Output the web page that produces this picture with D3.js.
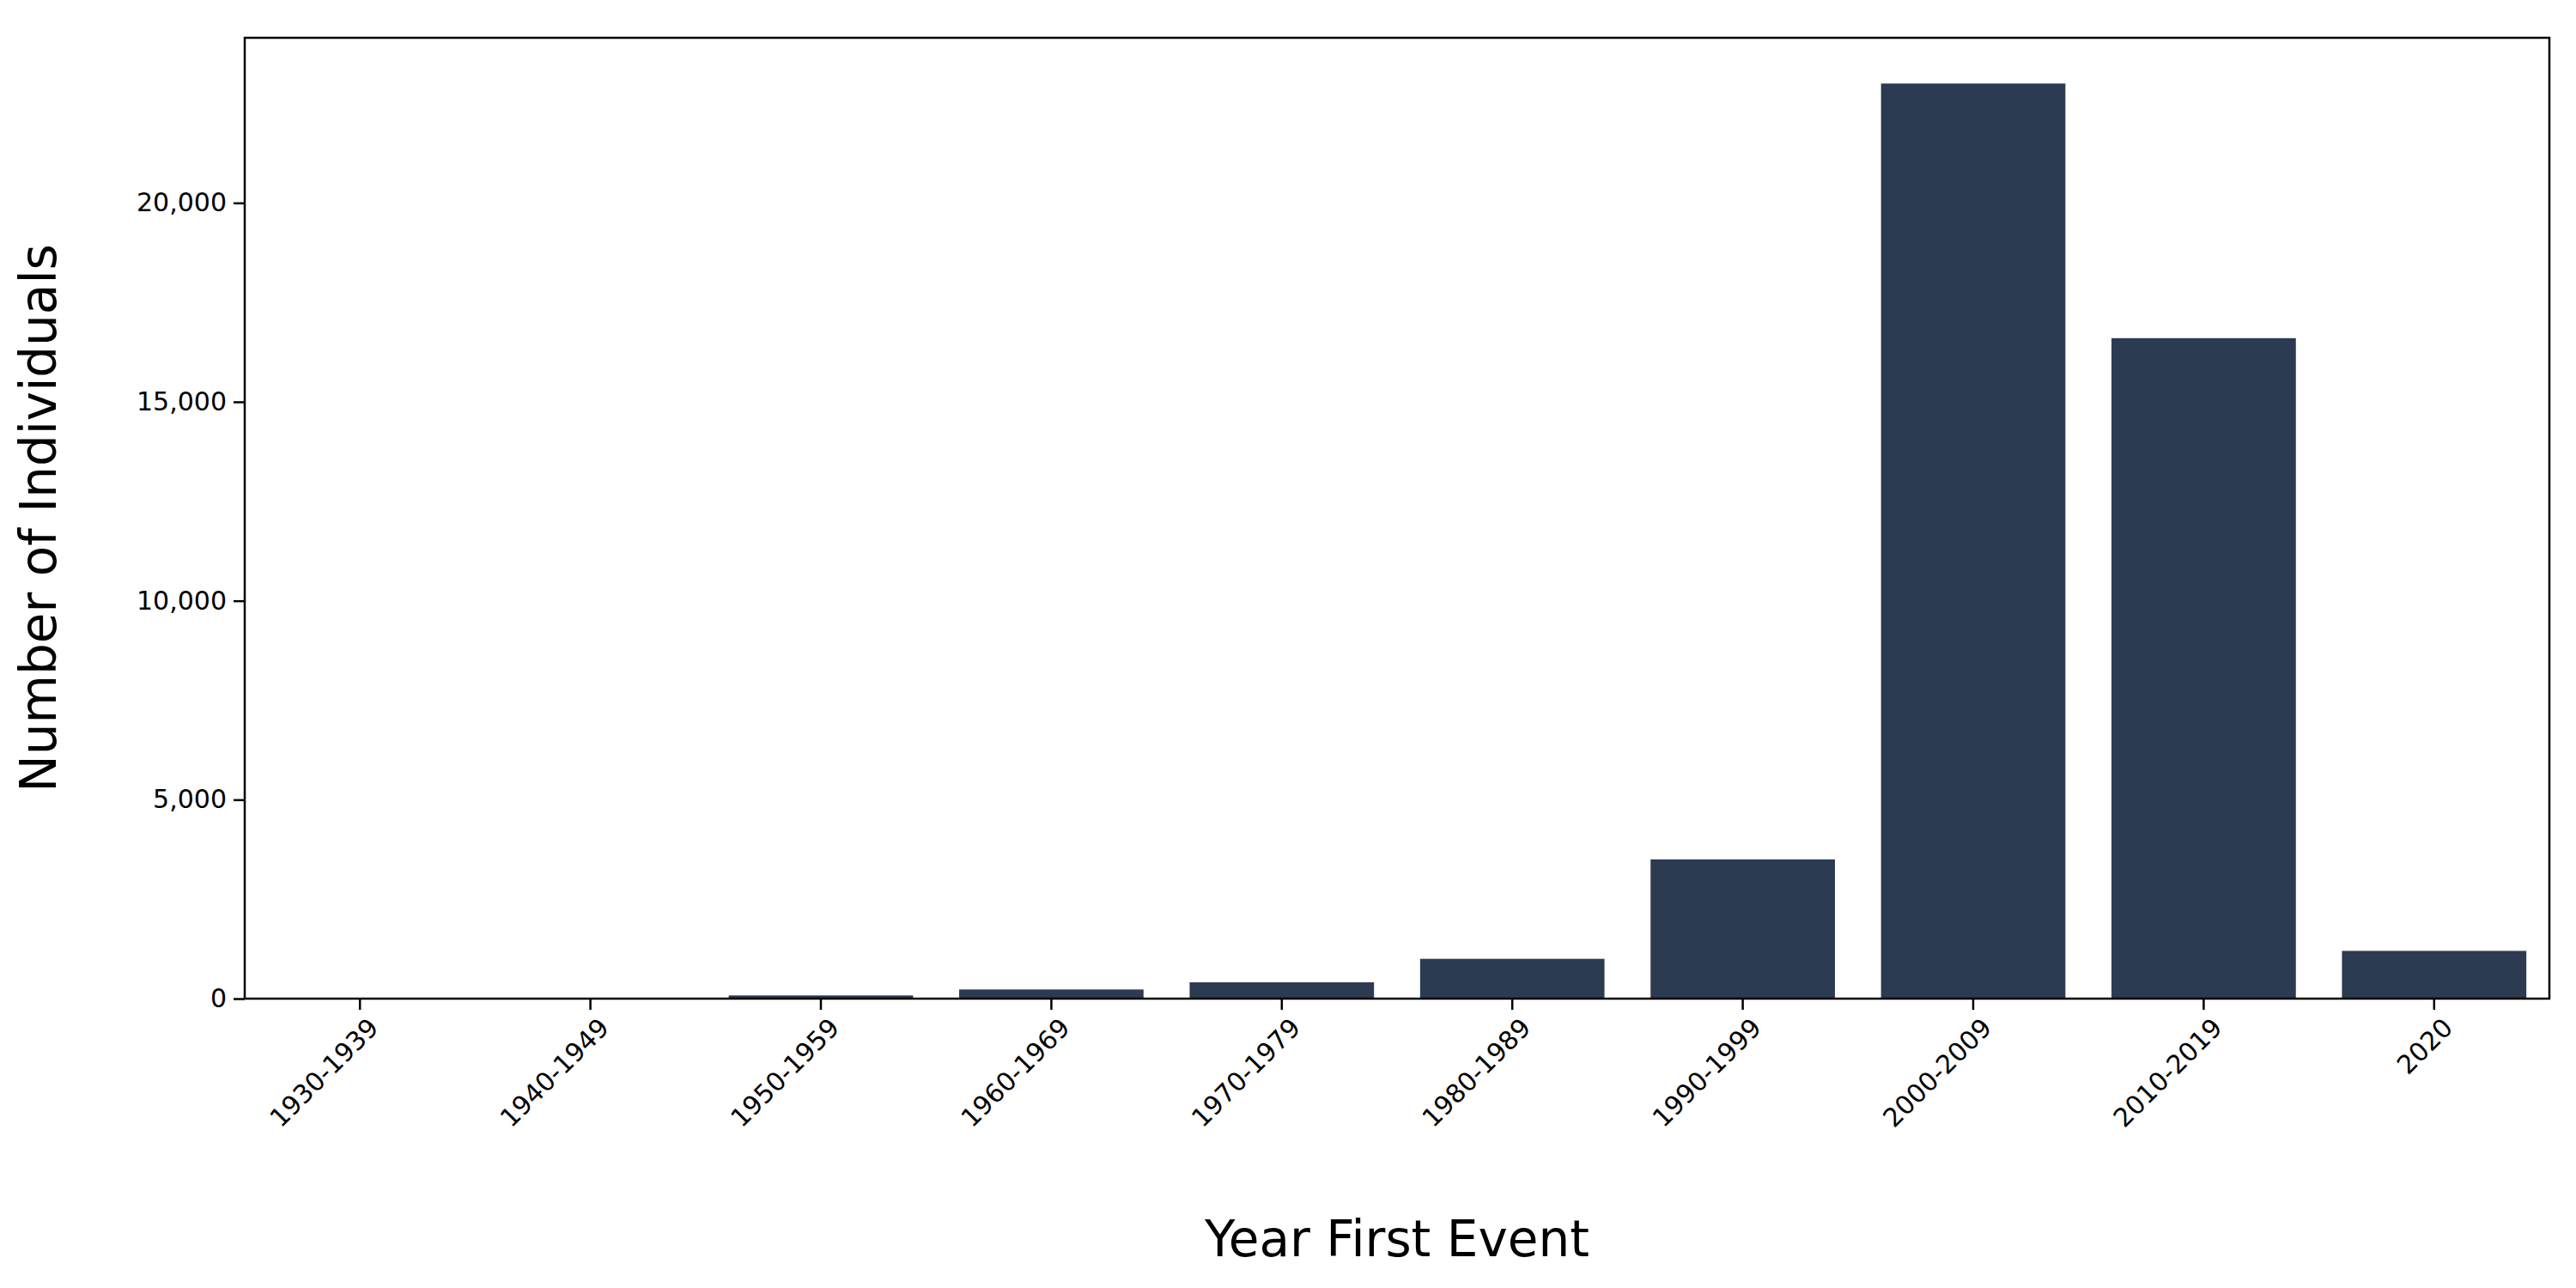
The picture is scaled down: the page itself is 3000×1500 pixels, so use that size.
<!DOCTYPE html>
<html><head><meta charset="utf-8">
<script src="https://cdn.jsdelivr.net/npm/d3@7"></script>
<style>body{margin:0;background:#fff}text{font-family:"DejaVu Sans",sans-serif}</style>
</head><body><svg></svg>
<script>
// Data
var categories = ["1930-1939","1940-1949","1950-1959","1960-1969","1970-1979","1980-1989","1990-1999","2000-2009","2010-2019","2020"];
var counts = [5, 10, 80, 230, 410, 1000, 3500, 23000, 16600, 1200];
var yTicks = [0, 5000, 10000, 15000, 20000];

var W = 3000, H = 1500;
var margin = {left: 285, right: 31, top: 44, bottom: 337};
var w = W - margin.left - margin.right, h = H - margin.top - margin.bottom;

var svg = d3.select("svg").attr("width", W).attr("height", H)
  .append("g").attr("transform", "translate(" + margin.left + "," + margin.top + ")");

var x = d3.scaleBand().domain(categories).range([0, w]).paddingInner(0.2).paddingOuter(0.1);
var y = d3.scaleLinear().domain([0, 24150]).range([h, 0]);

// bars
svg.selectAll("rect.bar").data(counts).enter().append("rect")
  .attr("class", "bar")
  .attr("x", function (d, i) { return x(categories[i]); })
  .attr("width", x.bandwidth())
  .attr("y", function (d) { return y(d); })
  .attr("height", function (d) { return h - y(d); })
  .attr("fill", "#2c3a52");

// axes
var xa = svg.append("g").attr("transform", "translate(0," + h + ")")
  .call(d3.axisBottom(x).tickSize(13).tickPadding(8));
xa.selectAll("text").attr("font-size", 30).attr("text-anchor", "end")
  .attr("transform", "translate(0,4) rotate(-45)").attr("dx", "-0.2em").attr("dy", "0.6em");

var ya = svg.append("g").call(d3.axisLeft(y).tickValues(yTicks).tickSize(13).tickPadding(8));
ya.selectAll("text").attr("font-size", 30);
svg.selectAll(".domain").remove();
svg.selectAll(".tick line").attr("stroke-width", 2.5);

svg.append("rect").attr("width", w).attr("height", h)
  .attr("fill", "none").attr("stroke", "#000").attr("stroke-width", 2.5);

// labels
svg.append("text").attr("x", w / 2).attr("y", h + 300).attr("text-anchor", "middle")
  .attr("font-size", 58).text("Year First Event");
svg.append("text").attr("transform", "translate(-220," + h / 2 + ") rotate(-90)")
  .attr("text-anchor", "middle").attr("font-size", 58).text("Number of Individuals");
</script></body></html>
